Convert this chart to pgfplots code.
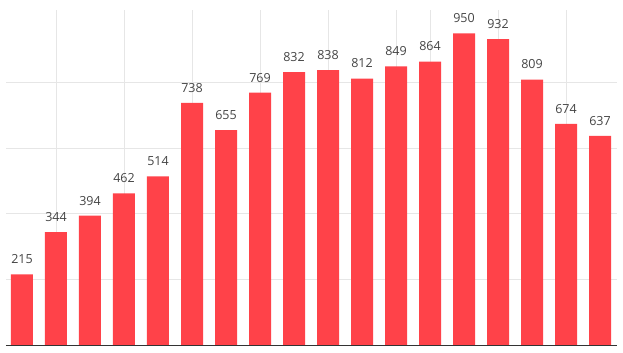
\documentclass[border=0pt]{standalone}
\usepackage{pgfplots}
\pgfplotsset{compat=1.18}
\usepackage{fontspec}
\setmainfont{Open Sans}
\definecolor{barred}{RGB}{255,66,73}
\definecolor{gridgray}{RGB}{230,230,230}
\definecolor{labgray}{RGB}{68,68,68}
\begin{document}
\begin{tikzpicture}
\path[use as bounding box] (-6bp,-8bp) rectangle (617bp,345bp);
\begin{axis}[
  at={(0,0)}, anchor=south west,
  scale only axis, width=610.7bp, height=335bp,
  xmin=-0.47, xmax=17.49, ymin=0, ymax=1021,
  ybar, bar width=0.647, bar shift=0pt,
  axis x line*=bottom, axis y line*=left,
  y axis line style={draw=none},
  x axis line style={draw=black!80, line width=1bp},
  xtick={1,3,5,7,9,11,12,14,16}, xticklabels={},
  ytick={200,400,600,800}, yticklabels={},
  major tick length=0pt,
  grid=major, major grid style={draw=gridgray, line width=0.8bp},
  /pgf/number format/assume math mode=true,
  nodes near coords,
  every node near coord/.append style={font=\fontsize{12.5bp}{14bp}\selectfont, text=labgray, anchor=south, yshift=7bp},
]
\addplot[fill=barred, draw=none] coordinates {
(0,215) (1,344) (2,394) (3,462) (4,514) (5,738) (6,655) (7,769) (8,832)
(9,838) (10,812) (11,849) (12,864) (13,950) (14,932) (15,809) (16,674) (17,637)};
\end{axis}
\end{tikzpicture}
\end{document}
